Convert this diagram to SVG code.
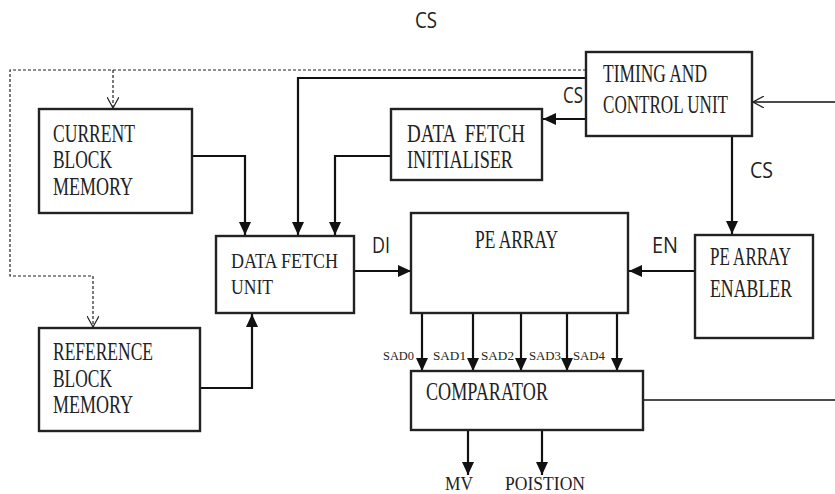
<svg xmlns="http://www.w3.org/2000/svg" width="835" height="494" viewBox="0 0 835 494">
<defs>
<marker id="fa" markerUnits="userSpaceOnUse" markerWidth="14" markerHeight="12" refX="13" refY="6" orient="auto">
<path d="M0,0 L13,6 L0,12 Z" fill="#111"/>
</marker>
<marker id="oa" markerUnits="userSpaceOnUse" markerWidth="12" markerHeight="12" refX="11" refY="6" orient="auto">
<path d="M0,0 L11,6 L0,12" fill="none" stroke="#222" stroke-width="1.2"/>
</marker>
<style>
.box{fill:#fff;stroke:#222;stroke-width:2.4}
.t{font-family:"Liberation Serif","Times New Roman",serif;font-size:25px;fill:#222}
.s{font-family:"Open Sans","Liberation Sans",Arial,sans-serif;font-size:21px;fill:#222}
.sad{font-family:"Liberation Serif","Times New Roman",serif;font-size:13px;fill:#222}
.c{fill:none;stroke:#111;stroke-width:2.2}
.d{fill:none;stroke:#222;stroke-width:1.2;stroke-dasharray:3,2}
</style>
</defs>
<rect width="835" height="494" fill="#fff"/>

<g id="connectors">
<path class="d" d="M586,70 H10 V276 H93 V327" marker-end="url(#oa)"/>
<path class="d" d="M113,70 V108" marker-end="url(#oa)"/>
<path class="c" d="M586,78 H298 V235" marker-end="url(#fa)"/>
<path class="c" d="M192,156 H245 V235" marker-end="url(#fa)"/>
<path class="c" d="M391,156 H335 V235" marker-end="url(#fa)"/>
<path class="c" d="M586,119 H543" marker-end="url(#fa)"/>
<path class="c" d="M732,136 V234" marker-end="url(#fa)"/>
<path class="c" style="stroke-width:1.4" d="M835,102 H753" marker-end="url(#oa)"/>
<path class="c" d="M354,271 H411" marker-end="url(#fa)"/>
<path class="c" d="M695,271 H629" marker-end="url(#fa)"/>
<path class="c" d="M200,388 H252 V314" marker-end="url(#fa)"/>
<path class="c" d="M422,313 V371" marker-end="url(#fa)"/>
<path class="c" d="M473,313 V371" marker-end="url(#fa)"/>
<path class="c" d="M521,313 V371" marker-end="url(#fa)"/>
<path class="c" d="M567,313 V371" marker-end="url(#fa)"/>
<path class="c" d="M617,313 V371" marker-end="url(#fa)"/>
<path class="c" style="stroke-width:1.6" d="M643,400 H835"/>
<path class="c" d="M468,430 V475" marker-end="url(#fa)"/>
<path class="c" d="M542,430 V475" marker-end="url(#fa)"/>
<text class="s" x="415" y="28" textLength="22" lengthAdjust="spacingAndGlyphs">CS</text>
<text class="s" x="563" y="103" textLength="20" lengthAdjust="spacingAndGlyphs">CS</text>
<text class="s" x="750" y="178" textLength="23" lengthAdjust="spacingAndGlyphs">CS</text>
<text class="s" x="372" y="253" textLength="18" lengthAdjust="spacingAndGlyphs">DI</text>
<text class="s" x="652" y="253" textLength="26" lengthAdjust="spacingAndGlyphs">EN</text>
<text class="sad" x="383" y="360" textLength="31" lengthAdjust="spacingAndGlyphs">SAD0</text>
<text class="sad" x="433" y="360" textLength="33" lengthAdjust="spacingAndGlyphs">SAD1</text>
<text class="sad" x="481" y="360" textLength="33" lengthAdjust="spacingAndGlyphs">SAD2</text>
<text class="sad" x="529" y="360" textLength="32" lengthAdjust="spacingAndGlyphs">SAD3</text>
<text class="sad" x="573" y="360" textLength="32" lengthAdjust="spacingAndGlyphs">SAD4</text>
<text class="t" x="445" y="490" textLength="28" lengthAdjust="spacingAndGlyphs" style="font-size:19px">MV</text>
<text class="t" x="505" y="490" textLength="80" lengthAdjust="spacingAndGlyphs" style="font-size:19px">POISTION</text>
</g>

<g id="current-block-memory">
<rect class="box" x="39" y="109" width="153" height="104"/>
<text class="t" x="53" y="142" textLength="82" lengthAdjust="spacingAndGlyphs">CURRENT</text>
<text class="t" x="53" y="168" textLength="59" lengthAdjust="spacingAndGlyphs">BLOCK</text>
<text class="t" x="53" y="195" textLength="80" lengthAdjust="spacingAndGlyphs">MEMORY</text>
</g>

<g id="reference-block-memory">
<rect class="box" x="39" y="328" width="161" height="103"/>
<text class="t" x="53" y="360" textLength="100" lengthAdjust="spacingAndGlyphs">REFERENCE</text>
<text class="t" x="53" y="387" textLength="59" lengthAdjust="spacingAndGlyphs">BLOCK</text>
<text class="t" x="53" y="413" textLength="80" lengthAdjust="spacingAndGlyphs">MEMORY</text>
</g>

<g id="data-fetch-unit">
<rect class="box" x="216" y="236" width="138" height="77"/>
<text class="t" x="231" y="268" textLength="107" lengthAdjust="spacingAndGlyphs" style="font-size:22px">DATA FETCH</text>
<text class="t" x="231" y="294" textLength="42" lengthAdjust="spacingAndGlyphs" style="font-size:22px">UNIT</text>
</g>

<g id="data-fetch-initialiser">
<rect class="box" x="391" y="109" width="151" height="71"/>
<text class="t" x="407" y="142" textLength="118" lengthAdjust="spacingAndGlyphs" xml:space="preserve">DATA  FETCH</text>
<text class="t" x="407" y="168" textLength="106" lengthAdjust="spacingAndGlyphs">INITIALISER</text>
</g>

<g id="timing-and-control-unit">
<rect class="box" x="586" y="52" width="166" height="84"/>
<text class="t" x="603" y="82" textLength="104" lengthAdjust="spacingAndGlyphs">TIMING AND</text>
<text class="t" x="603" y="113" textLength="125" lengthAdjust="spacingAndGlyphs">CONTROL UNIT</text>
</g>

<g id="pe-array">
<rect class="box" x="411" y="213" width="217" height="100"/>
<text class="t" x="475" y="248" textLength="83" lengthAdjust="spacingAndGlyphs">PE ARRAY</text>
</g>

<g id="pe-array-enabler">
<rect class="box" x="695" y="235" width="118" height="103"/>
<text class="t" x="710" y="265" textLength="81" lengthAdjust="spacingAndGlyphs">PE ARRAY</text>
<text class="t" x="710" y="297" textLength="82" lengthAdjust="spacingAndGlyphs">ENABLER</text>
</g>

<g id="comparator">
<rect class="box" x="411" y="371" width="232" height="59"/>
<text class="t" x="426" y="400" textLength="122" lengthAdjust="spacingAndGlyphs">COMPARATOR</text>
</g>
</svg>
